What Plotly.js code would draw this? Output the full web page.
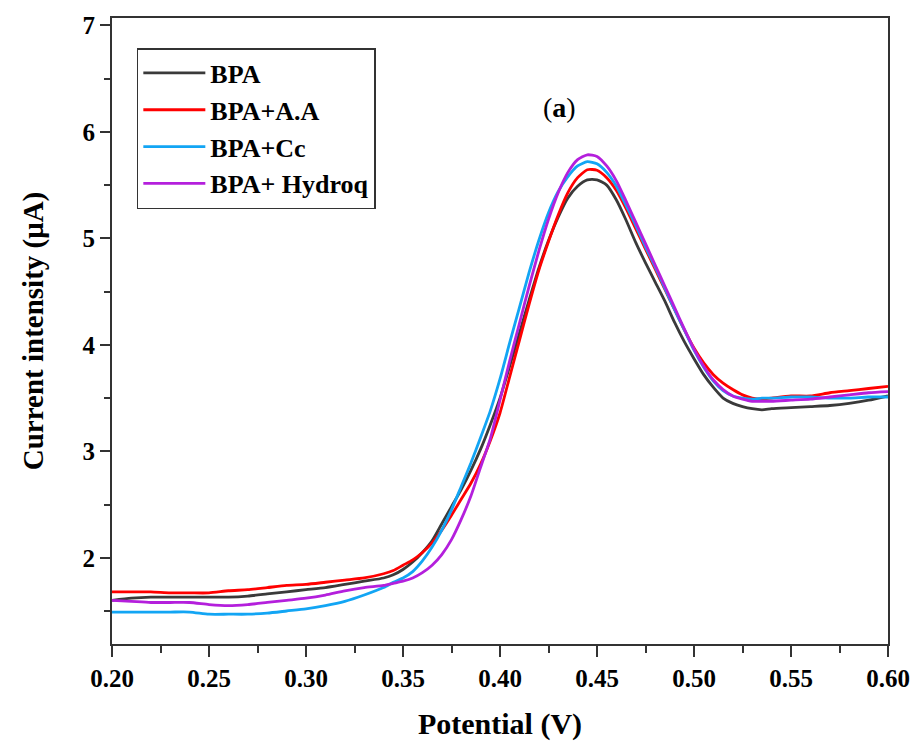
<!DOCTYPE html>
<html>
<head>
<meta charset="utf-8">
<script src="https://cdn.plot.ly/plotly-3.0.1.min.js"></script>
<style>html,body{margin:0;padding:0;background:#fff;}#chart{width:918px;height:742px;}</style>
</head>
<body>
<div id="chart"></div>
<script>
const potential = [0.20,0.21,0.22,0.23,0.24,0.25,0.26,0.27,0.28,0.29,0.30,0.31,0.32,0.33,0.34,
  0.345,0.35,0.355,0.36,0.365,0.37,0.375,0.38,0.385,0.39,0.395,0.40,
  0.405,0.41,0.415,0.42,0.425,0.43,0.435,0.44,0.445,0.45,
  0.455,0.46,0.465,0.47,0.475,0.48,0.485,0.49,0.495,0.50,0.505,0.51,0.515,0.52,0.525,0.53,0.535,0.54,
  0.55,0.56,0.57,0.58,0.59,0.60];

const bpa = [1.60,1.62,1.63,1.63,1.63,1.63,1.63,1.64,1.66,1.68,1.70,1.72,1.75,1.78,1.81,
  1.84,1.89,1.96,2.05,2.16,2.32,2.48,2.64,2.82,3.02,3.25,3.50,
  3.80,4.11,4.42,4.72,4.98,5.20,5.38,5.49,5.55,5.55,
  5.50,5.36,5.17,4.96,4.77,4.59,4.41,4.21,4.03,3.87,3.72,3.60,3.50,3.45,3.42,3.40,3.39,3.40,
  3.41,3.42,3.43,3.45,3.48,3.52];

const bpaAA = [1.68,1.68,1.68,1.67,1.67,1.67,1.69,1.70,1.72,1.74,1.75,1.77,1.79,1.81,1.85,
  1.88,1.93,1.98,2.05,2.14,2.26,2.40,2.55,2.70,2.88,3.10,3.36,
  3.70,4.04,4.38,4.70,4.97,5.22,5.43,5.57,5.645,5.64,
  5.57,5.45,5.28,5.09,4.90,4.71,4.52,4.33,4.14,3.97,3.83,3.72,3.64,3.58,3.53,3.50,3.49,3.50,
  3.52,3.52,3.55,3.57,3.59,3.61];

const bpaCc = [1.49,1.49,1.49,1.49,1.49,1.47,1.47,1.47,1.48,1.50,1.52,1.55,1.59,1.65,1.72,
  1.77,1.81,1.87,1.97,2.10,2.26,2.45,2.67,2.89,3.13,3.38,3.68,
  4.02,4.35,4.68,4.98,5.24,5.44,5.58,5.68,5.72,5.70,
  5.62,5.49,5.31,5.12,4.92,4.73,4.53,4.33,4.14,3.95,3.79,3.66,3.57,3.52,3.50,3.49,3.50,3.50,
  3.51,3.51,3.50,3.50,3.51,3.51];

const bpaHydroq = [1.60,1.59,1.58,1.58,1.58,1.56,1.55,1.56,1.58,1.60,1.62,1.65,1.69,1.72,1.74,
  1.76,1.78,1.81,1.86,1.93,2.03,2.17,2.36,2.58,2.85,3.12,3.48,
  3.85,4.20,4.55,4.88,5.18,5.43,5.62,5.74,5.785,5.77,
  5.68,5.54,5.35,5.15,4.95,4.75,4.55,4.35,4.15,3.96,3.80,3.67,3.58,3.52,3.49,3.47,3.47,3.47,
  3.48,3.49,3.51,3.53,3.55,3.56];

const seriesNames = ['BPA','BPA+A.A','BPA+Cc','BPA+ Hydroq'];
const seriesColors = ['#3a3a3a','#ff0000','#12a5f4','#b41fdc'];
const seriesData = [bpa, bpaAA, bpaCc, bpaHydroq];

const FONT = 'Liberation Serif, Times New Roman, serif';

const traces = seriesData.map((ys, i) => ({
  x: potential, y: ys, type: 'scatter', mode: 'lines',
  name: '<b>' + seriesNames[i] + '</b>',
  legendgroup: 'g' + i,
  line: {color: seriesColors[i], width: 2.8, shape: 'spline', smoothing: 0.6}
}));

const layout = {
  width: 918, height: 742,
  margin: {l: 112, r: 30, t: 18, b: 98},
  paper_bgcolor: '#fff', plot_bgcolor: '#fff',
  font: {family: FONT, color: '#000'},
  showlegend: true,
  legend: {
    x: 0.032, y: 0.952, xanchor: 'left', yanchor: 'top',
    bordercolor: '#333', borderwidth: 1.5, bgcolor: '#fff',
    font: {family: FONT, size: 26, color: '#000'},
    tracegroupgap: 0, itemwidth: 62
  },
  xaxis: {
    range: [0.2, 0.6], dtick: 0.05, tick0: 0.2, tickformat: '.2f',
    showgrid: false, zeroline: false,
    showline: true, linecolor: '#333', linewidth: 2, mirror: true,
    ticks: 'outside', ticklen: 11, tickwidth: 2, tickcolor: '#333',
    minor: {ticks: 'outside', ticklen: 7, tickwidth: 2, tickcolor: '#333', dtick: 0.025},
    tickfont: {family: FONT, size: 25, weight: 'bold', color: '#000'},
    title: {text: 'Potential (V)', font: {family: FONT, size: 30, weight: 'bold', color: '#000'}, standoff: 22}
  },
  yaxis: {
    range: [1.19, 7.07], dtick: 1, tick0: 0,
    showgrid: false, zeroline: false,
    showline: true, linecolor: '#333', linewidth: 2, mirror: true,
    ticks: 'outside', ticklen: 10, tickwidth: 2, tickcolor: '#333',
    minor: {ticks: 'outside', ticklen: 6, tickwidth: 2, tickcolor: '#333', dtick: 0.5},
    tickfont: {family: FONT, size: 25, weight: 'bold', color: '#000'},
    title: {text: 'Current intensity (μA)', font: {family: FONT, size: 29, weight: 'bold', color: '#000'}, standoff: 30}
  },
  annotations: [{
    xref: 'paper', yref: 'paper', x: 0.577, y: 0.885,
    text: '(<b>a</b>)', showarrow: false,
    font: {family: FONT, size: 28, color: '#000'}
  }]
};

Plotly.newPlot('chart', traces, layout, {displayModeBar: false, staticPlot: true});
</script>
</body>
</html>
